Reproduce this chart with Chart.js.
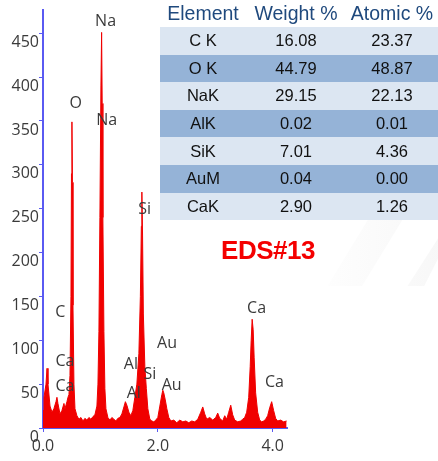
<!DOCTYPE html>
<html>
<head>
<meta charset="utf-8">
<script src="https://cdn.jsdelivr.net/npm/chart.js@4/dist/chart.umd.min.js"></script>
<style>
  html, body { margin: 0; padding: 0; background: #fff; }
  #wrap { position: relative; width: 438px; height: 461px; overflow: hidden; }
  #spectrum { position: absolute; left: 0; top: 0; }
  .wm { position: absolute; background: linear-gradient(90deg, rgba(230,230,230,0), rgba(230,230,230,0.3)); }
  #wm1 { left: 300px; top: 218px; width: 138px; height: 68px; clip-path: polygon(20% 100%, 50% 0, 75% 0, 45% 100%); }
  #wm2 { left: 300px; top: 218px; width: 138px; height: 68px; clip-path: polygon(78% 100%, 100% 30%, 100% 60%, 90% 100%); }
  #wm3 { left: 330px; top: 0; width: 108px; height: 22px; clip-path: polygon(20% 100%, 45% 0, 100% 0, 100% 100%); }
  #comp { position: absolute; left: 160px; top: 0; width: 278px; border-collapse: collapse;
          font-family: "Liberation Sans", Arial, sans-serif; }
  #comp th { height: 27px; padding: 0; font-weight: normal; font-size: 19.5px; color: #1f497d; background: #fff; }
  #comp td { height: 27.6px; padding: 0; text-align: center; font-size: 16.5px; color: #111; }
  #comp tr.lt td { background: rgb(220,230,242); }
  #comp tr.dk td { background: rgb(149,179,215); }
  #tag { position: absolute; left: 200px; top: 235px; width: 136px; text-align: center;
         font: bold 26px "Liberation Sans", Arial, sans-serif; color: #f40000; letter-spacing: -0.5px; }
</style>
</head>
<body>
<div id="wrap">
  <div class="wm" id="wm1"></div>
  <div class="wm" id="wm2"></div>
  <div class="wm" id="wm3"></div>
  <canvas id="spectrum" width="438" height="461"></canvas>
  <table id="comp"><thead></thead><tbody></tbody></table>
  <div id="tag">EDS#13</div>
</div>
<script>
// --- Spectrum data (energy in keV, counts) ---
const energies = [
  0.00, 0.017, 0.052, 0.07, 0.087, 0.122, 0.157, 0.19, 0.226, 0.243,
  0.26, 0.296, 0.33, 0.365, 0.383, 0.417, 0.435, 0.452, 0.47, 0.487,
  0.496, 0.504, 0.513, 0.522, 0.539, 0.557, 0.591, 0.626, 0.661, 0.696,
  0.73, 0.765, 0.8, 0.835, 0.87, 0.904, 0.939, 0.957, 0.974, 0.991,
  1.009, 1.021, 1.031, 1.043, 1.061, 1.078, 1.096, 1.13, 1.165, 1.2,
  1.235, 1.27, 1.304, 1.339, 1.374, 1.409, 1.435, 1.461, 1.496, 1.53,
  1.565, 1.6, 1.635, 1.67, 1.696, 1.713, 1.722, 1.734, 1.748, 1.774,
  1.8, 1.826, 1.861, 1.896, 1.93, 1.965, 2.0, 2.035, 2.07, 2.087,
  2.104, 2.13, 2.157, 2.191, 2.226, 2.278, 2.33, 2.383, 2.435, 2.487,
  2.539, 2.591, 2.643, 2.696, 2.748, 2.783, 2.817, 2.852, 2.904, 2.957,
  3.009, 3.043, 3.078, 3.13, 3.165, 3.2, 3.235, 3.27, 3.304, 3.339,
  3.391, 3.443, 3.478, 3.513, 3.548, 3.583, 3.609, 3.626, 3.643, 3.661,
  3.678, 3.704, 3.739, 3.774, 3.809, 3.843, 3.878, 3.913, 3.948, 3.983,
  4.017, 4.052, 4.087, 4.139, 4.191, 4.243
];
const counts = [
  20, 35, 50, 68, 50, 25, 18, 22, 30, 35,
  28, 16, 20, 28, 22, 30, 35, 38, 60, 150,
  290, 349, 280, 140, 50, 22, 14, 10, 12, 8,
  11, 9, 12, 10, 13, 15, 25, 50, 110, 240,
  390, 451, 370, 240, 110, 45, 22, 12, 9, 12,
  10, 8, 11, 12, 16, 24, 30, 26, 18, 14,
  20, 35, 50, 85, 150, 230, 269, 220, 130, 70,
  45, 22, 10, 8, 7, 9, 12, 25, 38, 43,
  40, 32, 22, 12, 8, 9, 6, 9, 7, 8,
  6, 8, 7, 10, 18, 24, 16, 10, 12, 9,
  12, 17, 11, 8, 14, 10, 18, 26, 15, 9,
  7, 8, 10, 12, 18, 35, 70, 100, 124, 112,
  80, 40, 18, 9, 7, 8, 10, 14, 23, 30,
  20, 11, 8, 9, 7, 8
];

// --- Peak labels (element, energy keV, counts where the label sits) ---
const peakNames  = ["Na", "O", "Na", "Si", "C", "Ca", "Ca", "Al", "Al", "Si", "Au", "Au", "Ca", "Ca"];
const peakKeV    = [1.09, 0.57, 1.11, 1.77, 0.30, 0.383, 0.383, 1.53, 1.58, 1.86, 2.16, 2.24, 3.72, 4.03];
const peakCounts = [463, 370, 351, 249, 132, 76, 47, 72, 39, 61, 96, 48, 136, 52];

// --- Composition table ---
const tableHeader = ["Element", "Weight %", "Atomic %"];
const elements = ["C K", "O K", "NaK", "AlK", "SiK", "AuM", "CaK"];
const weightPct = ["16.08", "44.79", "29.15", "0.02", "7.01", "0.04", "2.90"];
const atomicPct = ["23.37", "48.87", "22.13", "0.01", "4.36", "0.00", "1.26"];

// --- Axis ticks ---
const yTicks = [0, 50, 100, 150, 200, 250, 300, 350, 400, 450];
const xTicks = [0, 2, 4];

const AXIS_BLUE = "#5a5af2";
const LABEL_GREY = "#3a3a3a";
const TICK_FONT = { family: "'Open Sans', sans-serif", size: 16 };

function buildTable() {
  const head = document.querySelector("#comp thead");
  const body = document.querySelector("#comp tbody");
  const hr = document.createElement("tr");
  tableHeader.forEach((h, i) => {
    const th = document.createElement("th");
    th.textContent = h;
    th.style.width = ["86px", "100px", "92px"][i];
    hr.appendChild(th);
  });
  head.appendChild(hr);
  elements.forEach((el, i) => {
    const tr = document.createElement("tr");
    tr.className = i % 2 === 0 ? "lt" : "dk";
    [el, weightPct[i], atomicPct[i]].forEach((v) => {
      const td = document.createElement("td");
      td.textContent = v;
      tr.appendChild(td);
    });
    body.appendChild(tr);
  });
}

// draws the element names next to their peaks
const peakLabels = {
  id: "peakLabels",
  afterDatasetsDraw(chart) {
    const { ctx, scales } = chart;
    ctx.save();
    ctx.fillStyle = LABEL_GREY;
    ctx.font = "16px 'Open Sans', sans-serif";
    ctx.textAlign = "center";
    ctx.textBaseline = "middle";
    peakNames.forEach((name, i) => {
      ctx.fillText(name, scales.x.getPixelForValue(peakKeV[i]), scales.y.getPixelForValue(peakCounts[i]));
    });
    ctx.restore();
  }
};

function initChart() {
  const ctx = document.getElementById("spectrum");
  new Chart(ctx, {
    type: "line",
    data: {
      datasets: [{
        data: energies.map((e, i) => ({ x: e, y: counts[i] })),
        borderColor: "rgb(240, 0, 0)",
        backgroundColor: "rgb(240, 0, 0)",
        borderWidth: 1,
        fill: "origin",
        pointRadius: 0,
        tension: 0
      }]
    },
    options: {
      responsive: false,
      animation: false,
      events: [],
      layout: { padding: { top: 5, right: 151, left: 0, bottom: 0 } },
      plugins: { legend: { display: false }, tooltip: { enabled: false } },
      scales: {
        x: {
          type: "linear",
          min: 0,
          max: 4.25,
          afterFit: (s) => { s.height = 33; },
          afterBuildTicks: (s) => { s.ticks = xTicks.map((v) => ({ value: v })); },
          border: { color: AXIS_BLUE, width: 2 },
          grid: { drawOnChartArea: false, drawTicks: true, tickLength: 4, color: AXIS_BLUE },
          ticks: { color: LABEL_GREY, font: TICK_FONT, padding: 5, maxRotation: 0,
                   callback: (v) => Number(v).toFixed(1) }
        },
        y: {
          min: 0,
          max: 477,
          afterFit: (s) => { s.width = 43; },
          afterBuildTicks: (s) => { s.ticks = yTicks.map((v) => ({ value: v })); },
          border: { color: AXIS_BLUE, width: 2 },
          grid: { drawOnChartArea: false, drawTicks: true, tickLength: 4, color: AXIS_BLUE },
          ticks: { color: LABEL_GREY, font: TICK_FONT, padding: 0, labelOffset: 9,
                   callback: (v) => String(v) }
        }
      }
    },
    plugins: [peakLabels]
  });
}

buildTable();
initChart();
</script>
</body>
</html>
